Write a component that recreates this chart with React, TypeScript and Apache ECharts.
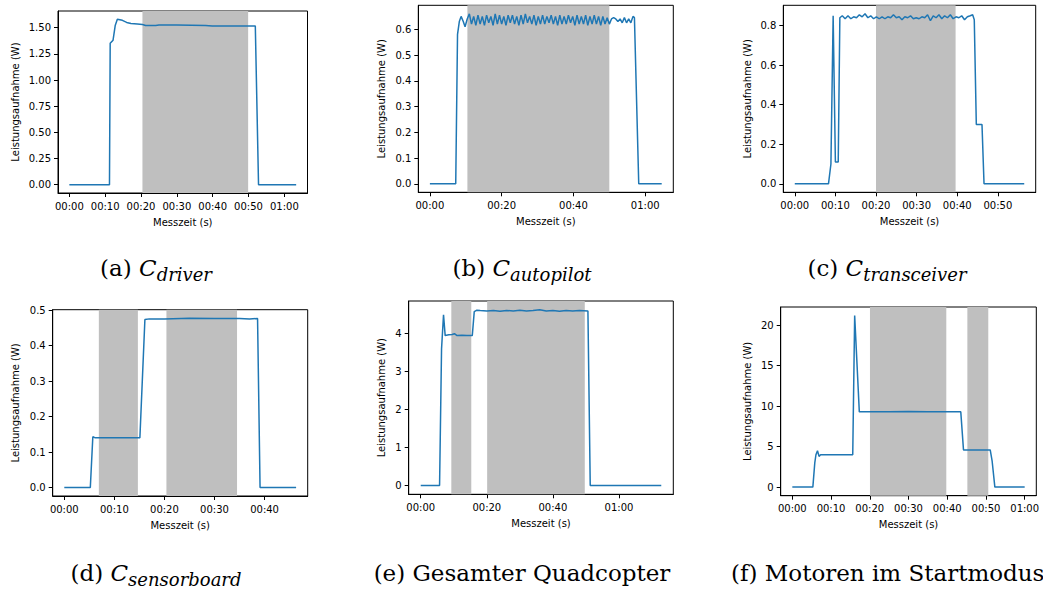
import React, { useEffect, useRef } from "react";
import * as echarts from "echarts";

// ---------- data (time in s, power in W) ----------
const driverData: number[][] = [
  [0, 0], [11.2, 0], [11.4, 1.35], [12.2, 1.38], [12.8, 1.52], [13.4, 1.58], [14.8, 1.57],
  [16.0, 1.55], [17.2, 1.54], [19.0, 1.535], [20.4, 1.53], [21.3, 1.52], [24.1, 1.52],
  [25.0, 1.525], [30.0, 1.525], [38.0, 1.52], [39.9, 1.515], [45.0, 1.515], [51.9, 1.515],
  [52.8, 0], [63.3, 0],
];
const driverShades: number[][] = [[20.4, 49.9]];
const driverYTicks = [0, 0.25, 0.5, 0.75, 1.0, 1.25, 1.5];
const driverXTicks = [0, 10, 20, 30, 40, 50, 60];

const autopilotData: number[][] = [
  [0, 0], [7.2, 0], [7.7, 0.58], [8.2, 0.63], [8.7, 0.65], [9.3, 0.63], [9.8, 0.61], [10.4, 0.64],
  [11.0, 0.66], [11.6, 0.62], [12.2, 0.65], [12.8, 0.615], [13.4, 0.655], [14.0, 0.62],
  [14.6, 0.65], [15.2, 0.615], [15.8, 0.655], [16.4, 0.625], [17.0, 0.65], [17.6, 0.615],
  [18.2, 0.66], [18.8, 0.62], [19.4, 0.655], [20.0, 0.62], [20.6, 0.65], [21.2, 0.615],
  [21.8, 0.655], [22.4, 0.625], [23.0, 0.655], [23.6, 0.62], [24.2, 0.65], [24.8, 0.615],
  [25.4, 0.655], [26.0, 0.62], [26.6, 0.66], [27.2, 0.625], [27.8, 0.65], [28.4, 0.62],
  [29.0, 0.655], [29.6, 0.615], [30.2, 0.65], [30.8, 0.62], [31.4, 0.655], [32.0, 0.62],
  [32.6, 0.65], [33.2, 0.625], [33.8, 0.655], [34.4, 0.62], [35.0, 0.65], [35.6, 0.615],
  [36.2, 0.655], [36.8, 0.62], [37.4, 0.65], [38.0, 0.62], [38.6, 0.655], [39.2, 0.625],
  [39.8, 0.65], [40.4, 0.615], [41.0, 0.655], [41.6, 0.62], [42.2, 0.65], [42.8, 0.62],
  [43.4, 0.655], [44.0, 0.615], [44.6, 0.65], [45.2, 0.62], [45.8, 0.655], [46.4, 0.62],
  [47.0, 0.65], [47.6, 0.615], [48.2, 0.65], [48.8, 0.62], [49.4, 0.645], [50.0, 0.62],
  [50.6, 0.64], [51.2, 0.645], [51.8, 0.64], [52.4, 0.63], [53.0, 0.64], [53.6, 0.625],
  [54.2, 0.645], [54.8, 0.625], [55.4, 0.64], [56.0, 0.625], [56.6, 0.65], [57.0, 0.645],
  [58.2, 0], [64.6, 0],
];
const autopilotShades: number[][] = [[10.45, 50.0]];
const autopilotYTicks = [0, 0.1, 0.2, 0.3, 0.4, 0.5, 0.6];
const autopilotXTicks = [0, 20, 40, 60];

const transceiverData: number[][] = [
  [0, 0], [8.3, 0], [8.9, 0.1], [9.45, 0.85], [9.6, 0.85], [10.0, 0.11], [10.7, 0.11],
  [11.1, 0.84], [11.7, 0.85], [12.4, 0.835], [13.1, 0.85], [13.8, 0.835], [14.5, 0.845],
  [15.2, 0.84], [15.9, 0.855], [16.6, 0.845], [17.3, 0.86], [18.0, 0.84], [18.7, 0.85],
  [19.4, 0.835], [20.1, 0.845], [20.8, 0.835], [21.5, 0.845], [22.2, 0.835], [22.9, 0.845],
  [23.6, 0.84], [24.3, 0.855], [25.0, 0.84], [25.7, 0.845], [26.4, 0.83], [27.1, 0.845],
  [27.8, 0.84], [28.5, 0.85], [29.2, 0.835], [29.9, 0.84], [30.6, 0.835], [31.3, 0.845],
  [32.0, 0.84], [32.7, 0.855], [33.4, 0.825], [34.1, 0.85], [34.8, 0.84], [35.5, 0.855],
  [36.2, 0.835], [36.9, 0.85], [37.6, 0.84], [38.3, 0.855], [39.0, 0.835], [39.7, 0.845],
  [40.4, 0.84], [41.1, 0.85], [41.8, 0.83], [42.5, 0.845], [43.2, 0.85], [43.8, 0.855],
  [44.2, 0.83], [44.7, 0.3], [46.1, 0.3], [46.6, 0], [56.5, 0],
];
const transceiverShades: number[][] = [[20.0, 39.6]];
const transceiverYTicks = [0, 0.2, 0.4, 0.6, 0.8];
const transceiverXTicks = [0, 10, 20, 30, 40, 50];

const sensorboardData: number[][] = [
  [0, 0], [5.2, 0], [5.7, 0.143], [6.2, 0.14], [10.0, 0.14], [15.1, 0.14], [16.1, 0.473],
  [17.0, 0.475], [20.0, 0.475], [25.0, 0.477], [30.0, 0.476], [35.0, 0.476], [37.0, 0.475],
  [38.6, 0.476], [39.1, 0], [46.3, 0],
];
const sensorboardShades: number[][] = [[6.9, 14.7], [20.4, 34.5]];
const sensorboardYTicks = [0, 0.1, 0.2, 0.3, 0.4, 0.5];
const sensorboardXTicks = [0, 10, 20, 30, 40];

const quadcopterData: number[][] = [
  [0, 0], [5.7, 0], [6.3, 3.6], [6.9, 4.5], [7.4, 3.95], [8.5, 3.97], [9.5, 3.98], [10.2, 4.0],
  [11.0, 3.95], [12.5, 3.96], [14.0, 3.95], [15.6, 3.95], [16.2, 4.58], [17.0, 4.62],
  [18.0, 4.61], [20.0, 4.6], [22.0, 4.61], [24.0, 4.59], [26.0, 4.61], [28.0, 4.6],
  [30.0, 4.62], [32.0, 4.6], [34.0, 4.61], [36.0, 4.63], [38.0, 4.6], [40.0, 4.61],
  [42.0, 4.59], [44.0, 4.61], [46.0, 4.6], [48.0, 4.61], [50.6, 4.6], [51.3, 0], [72.8, 0],
];
const quadcopterShades: number[][] = [[9.26, 15.3], [20.1, 49.65]];
const quadcopterYTicks = [0, 1, 2, 3, 4];
const quadcopterXTicks = [0, 20, 40, 60];

const motorsData: number[][] = [
  [0, 0], [5.3, 0], [5.8, 3.0], [6.1, 4.0], [6.5, 4.5], [6.9, 3.8], [7.3, 4.0], [10.0, 4.0],
  [15.6, 4.0], [16.1, 21.2], [17.3, 9.3], [20.0, 9.3], [25.0, 9.3], [30.0, 9.35], [35.0, 9.3],
  [40.0, 9.3], [43.5, 9.3], [44.2, 4.6], [48.0, 4.6], [51.1, 4.6], [51.6, 3.2], [52.3, 0],
  [60.0, 0],
];
const motorsShades: number[][] = [[20.05, 39.76], [45.2, 50.6]];
const motorsYTicks = [0, 5, 10, 15, 20];
const motorsXTicks = [0, 10, 20, 30, 40, 50, 60];

const yAxisTitle = "Leistungsaufnahme (W)";
const xAxisTitle = "Messzeit (s)";

// captions: [label prefix, italic symbol, subscript]
const captionA = ["(a) ", "C", "driver"];
const captionB = ["(b) ", "C", "autopilot"];
const captionC = ["(c) ", "C", "transceiver"];
const captionD = ["(d) ", "C", "sensorboard"];
const captionE = ["(e) Gesamter Quadcopter", "", ""];
const captionF = ["(f) Motoren im Startmodus", "", ""];

// ---------- layout ----------
const panels = [
  { data: driverData, shades: driverShades, yTicks: driverYTicks, dec: 2, xTicks: driverXTicks,
    box: [58, 11, 249.5, 182], yGap: 38 },
  { data: autopilotData, shades: autopilotShades, yTicks: autopilotYTicks, dec: 1, xTicks: autopilotXTicks,
    box: [418.3, 5.3, 255, 187], yGap: 32 },
  { data: transceiverData, shades: transceiverShades, yTicks: transceiverYTicks, dec: 1, xTicks: transceiverXTicks,
    box: [783.3, 5.3, 252.4, 187], yGap: 31 },
  { data: sensorboardData, shades: sensorboardShades, yTicks: sensorboardYTicks, dec: 1, xTicks: sensorboardXTicks,
    box: [52.7, 309.7, 255, 186.3], yGap: 32 },
  { data: quadcopterData, shades: quadcopterShades, yTicks: quadcopterYTicks, dec: 0, xTicks: quadcopterXTicks,
    box: [408.7, 301, 264.6, 193.3], yGap: 22 },
  { data: motorsData, shades: motorsShades, yTicks: motorsYTicks, dec: 0, xTicks: motorsXTicks,
    box: [780.7, 307, 255.6, 188.7], yGap: 28 },
];

const captions = [
  { c: captionA, x: 156, y: 268, align: "center" },
  { c: captionB, x: 522, y: 268, align: "center" },
  { c: captionC, x: 887, y: 268, align: "center" },
  { c: captionD, x: 156, y: 573, align: "center" },
  { c: captionE, x: 522, y: 573, align: "center" },
  { c: captionF, x: 731, y: 573, align: "left" },
];

const pad2 = (n: number) => String(n).padStart(2, "0");
const fmtTime = (v: number) => {
  const t = Math.round(v);
  return pad2(Math.floor(t / 60)) + ":" + pad2(t % 60);
};

const AXIS_FONT = "DejaVu Sans";
const SERIF = "DejaVu Serif";

export default function App() {
  const ref = useRef<HTMLDivElement>(null);
  useEffect(() => {
    if (!ref.current) return;
    const chart = echarts.init(ref.current, undefined, { renderer: "svg" });
    const grid: any[] = [];
    const xAxis: any[] = [];
    const yAxis: any[] = [];
    const series: any[] = [];
    panels.forEach((p, i) => {
      const xs = p.data.map((d) => d[0]);
      const ys = p.data.map((d) => d[1]);
      const xMin = Math.min(...xs), xMax = Math.max(...xs);
      const yMin = Math.min(...ys), yMax = Math.max(...ys);
      const xm = (xMax - xMin) * 0.05, ym = (yMax - yMin) * 0.05;
      const [l, t, w, h] = p.box;
      grid.push({
        left: l, top: t, width: w, height: h, containLabel: false, outerBoundsMode: "none",
        show: true, borderColor: "#000", borderWidth: 1, backgroundColor: "transparent",
      });
      xAxis.push({
        type: "value", gridIndex: i, min: xMin - xm, max: xMax + xm,
        name: xAxisTitle, nameLocation: "middle", nameGap: 24,
        nameTextStyle: { fontFamily: AXIS_FONT, fontSize: 10, color: "#000" },
        axisLine: { show: true, onZero: false, lineStyle: { color: "#000", width: 1 } },
        axisTick: { show: true, customValues: p.xTicks, length: 4, lineStyle: { color: "#000", width: 1 } },
        axisLabel: { customValues: p.xTicks, formatter: fmtTime, fontFamily: AXIS_FONT, fontSize: 10, color: "#000", margin: 8 },
        splitLine: { show: false },
      });
      yAxis.push({
        type: "value", gridIndex: i, min: yMin - ym, max: yMax + ym,
        name: yAxisTitle, nameLocation: "middle", nameGap: p.yGap,
        nameTextStyle: { fontFamily: AXIS_FONT, fontSize: 10, color: "#000" },
        axisLine: { show: true, onZero: false, lineStyle: { color: "#000", width: 1 } },
        axisTick: { show: true, customValues: p.yTicks, length: 4, lineStyle: { color: "#000", width: 1 } },
        axisLabel: { customValues: p.yTicks, formatter: (v: number) => v.toFixed(p.dec), fontFamily: AXIS_FONT, fontSize: 10, color: "#000", margin: 7 },
        splitLine: { show: false },
      });
      series.push({
        type: "line", xAxisIndex: i, yAxisIndex: i, data: p.data, showSymbol: false, symbol: "none",
        lineStyle: { color: "#1f77b4", width: 1.5 }, itemStyle: { color: "#1f77b4" }, z: 3,
        markArea: {
          silent: true, itemStyle: { color: "#bfbfbf" },
          data: p.shades.map((s) => [{ xAxis: s[0] }, { xAxis: s[1] }]),
        },
      });
    });
    const graphic = captions.map((cap) => {
      const [pre, sym, sub] = cap.c;
      let text = "{n|" + pre + "}";
      if (sym) text += "{c|" + sym + "}";
      if (sub) text += "{s|" + sub + "}";
      return {
        type: "text", x: cap.x, y: cap.y, z: 10,
        style: {
          text, align: cap.align, verticalAlign: "middle", fill: "#000",
          rich: {
            n: { fontFamily: SERIF, fontSize: 23, lineHeight: 30, verticalAlign: "middle", fill: "#000", color: "#000" },
            c: { fontFamily: SERIF, fontStyle: "italic", fontSize: 23, lineHeight: 30, verticalAlign: "middle", fill: "#000", color: "#000" },
            s: { fontFamily: SERIF, fontStyle: "italic", fontSize: 18, lineHeight: 16, verticalAlign: "bottom", fill: "#000", color: "#000" },
          },
        },
      };
    });
    chart.setOption({
      animation: false,
      backgroundColor: "#fff",
      grid, xAxis, yAxis, series, graphic,
    });
    return () => chart.dispose();
  }, []);
  return (
    <div
      ref={ref}
      style={{ position: "absolute", left: 0, top: 0, width: 1043, height: 590, background: "#fff" }}
    />
  );
}
